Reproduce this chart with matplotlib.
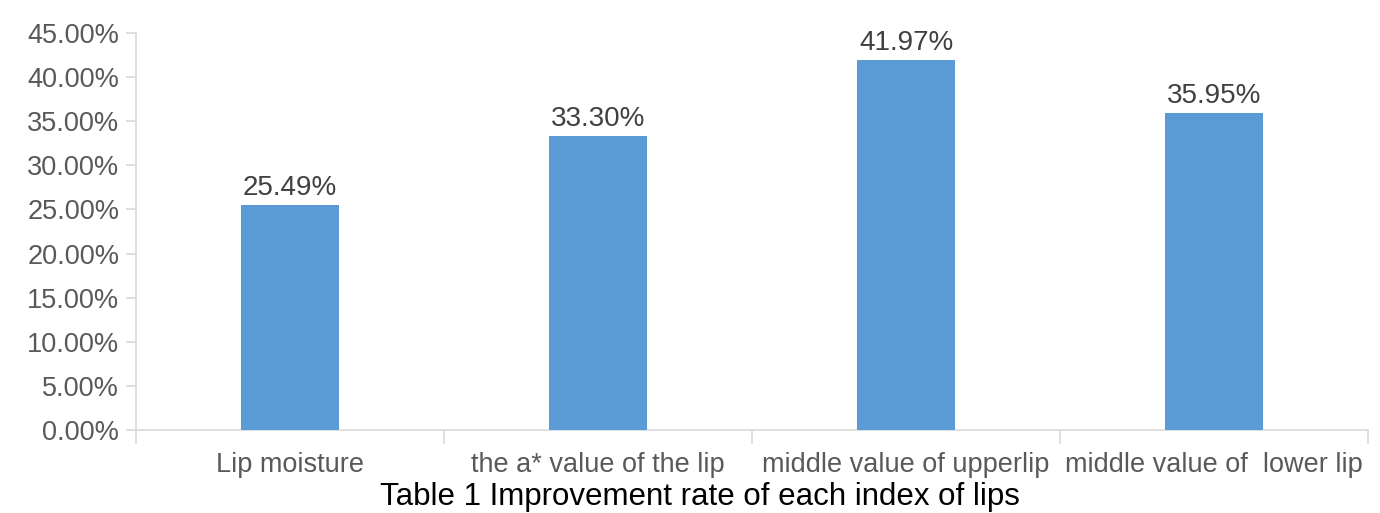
import numpy as np
import matplotlib
matplotlib.use('Agg')
import matplotlib.pyplot as plt
from matplotlib.ticker import PercentFormatter

plt.rcParams['font.family'] = ['Liberation Sans', 'DejaVu Sans']

categories = ['Lip moisture', 'the a* value of the lip',
              'middle value of upperlip', 'middle value of  lower lip']
rates = [25.49, 33.30, 41.97, 35.95]
bar_labels = ['25.49%', '33.30%', '41.97%', '35.95%']
caption = 'Table 1 Improvement rate of each index of lips'

fig = plt.figure(figsize=(13.8, 5.13), dpi=100)
ax = fig.add_axes([136 / 1380, 1 - 430 / 513, 1232 / 1380, 397 / 513])

x = np.arange(len(categories))
bars = ax.bar(x, rates, width=0.315, color='#5b9bd5', zorder=3)
for b, lab in zip(bars, bar_labels):
    ax.annotate(lab, (b.get_x() + b.get_width() / 2, b.get_height()),
                xytext=(0, 3), textcoords='offset points',
                ha='center', va='bottom', fontsize=20, color='#404040')

ax.set_xlim(-0.5, len(categories) - 0.5)
ax.set_ylim(0, 45)
ax.set_yticks(np.arange(0, 45.1, 5))
ax.yaxis.set_major_formatter(PercentFormatter(decimals=2))

ax.set_xticks(x)
ax.set_xticklabels(categories)
ax.set_xticks(np.arange(-0.5, len(categories), 1), minor=True)
ax.tick_params(axis='x', which='major', length=0, pad=16,
               labelsize=19.5, labelcolor='#595959')
ax.tick_params(axis='x', which='minor', length=10, color='#d9d9d9', width=1.2)
ax.tick_params(axis='y', length=7, color='#d9d9d9', width=1.2, pad=5,
               labelsize=19.5, labelcolor='#595959')

for s in ['top', 'right']:
    ax.spines[s].set_visible(False)
for s in ['left', 'bottom']:
    ax.spines[s].set_color('#d9d9d9')
    ax.spines[s].set_linewidth(1.2)

fig.text(700 / 1380, 1 - 497 / 513, caption, ha='center', va='center',
         fontsize=22.5, color='black')

fig.savefig('out.png', dpi=100)
